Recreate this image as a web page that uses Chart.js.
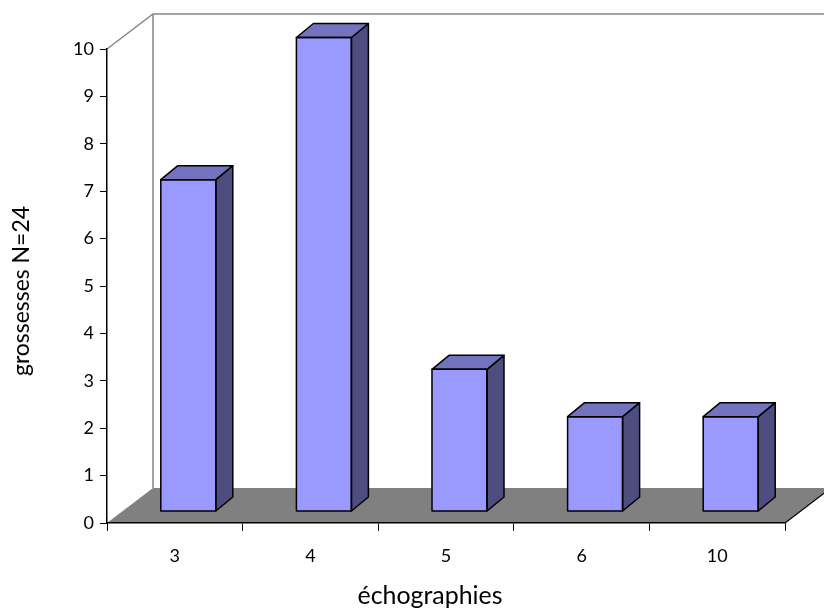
<!DOCTYPE html>
<html>
<head>
<meta charset="utf-8">
<script src="https://cdn.jsdelivr.net/npm/chart.js@4/dist/chart.umd.min.js"></script>
<style>
  html, body { margin: 0; padding: 0; background: #ffffff; }
  #wrap { width: 824px; height: 614px; position: relative; }
</style>
</head>
<body>
<div id="wrap"><canvas id="c" width="824" height="614"></canvas></div>
<script>
const categories = ['3', '4', '5', '6', '10'];
const counts = [7, 10, 3, 2, 2];
const yMin = 0;
const yMax = 10;
const yStep = 1;
const xTitle = 'échographies';
const yTitle = 'grossesses N=24';

const FONT = 'Lato, Calibri, Carlito, sans-serif';
const WALL = { dx: 46, dy: -35 };
const BAR_SHIFT = { dx: 13.5, dy: -11.5 };
const BAR_DEPTH = { dx: 17, dy: -14 };

// fit title font sizes to the widths seen in the reference
function fitSize(text, targetWidth) {
  const m = document.createElement('canvas').getContext('2d');
  m.font = '20px ' + FONT;
  return 20 * targetWidth / m.measureText(text).width;
}
const xTitleSize = fitSize(xTitle, 145);
const yTitleSize = fitSize(yTitle, 170);

const box3d = {
  id: 'box3d',
  beforeDraw(chart) {
    const { ctx } = chart;
    const xs = chart.scales.x, ys = chart.scales.y;
    const left = xs.left, right = xs.right;
    const top = ys.getPixelForValue(yMax), bottom = ys.getPixelForValue(yMin);
    ctx.save();
    ctx.beginPath();
    ctx.moveTo(left, bottom);
    ctx.lineTo(left + WALL.dx, bottom + WALL.dy);
    ctx.lineTo(right + WALL.dx, bottom + WALL.dy);
    ctx.lineTo(right, bottom);
    ctx.closePath();
    ctx.fillStyle = '#808080';
    ctx.fill();
    ctx.strokeStyle = '#000000';
    ctx.lineWidth = 1.2;
    ctx.beginPath();
    ctx.moveTo(right, bottom);
    ctx.lineTo(right + WALL.dx, bottom + WALL.dy);
    ctx.stroke();
    ctx.strokeStyle = '#868686';
    ctx.lineWidth = 1.5;
    ctx.beginPath();
    ctx.moveTo(left, top);
    ctx.lineTo(left + WALL.dx, top + WALL.dy);
    ctx.lineTo(right + WALL.dx, top + WALL.dy);
    ctx.moveTo(left + WALL.dx, top + WALL.dy);
    ctx.lineTo(left + WALL.dx, bottom + WALL.dy);
    ctx.stroke();
    ctx.restore();
  },
  beforeDatasetDraw(chart) {
    chart.ctx.save();
    chart.ctx.translate(BAR_SHIFT.dx, BAR_SHIFT.dy);
  },
  afterDatasetDraw(chart, args) {
    const { ctx } = chart;
    ctx.lineWidth = 1.5;
    ctx.strokeStyle = '#000000';
    ctx.lineJoin = 'round';
    args.meta.data.forEach(el => {
      const p = el.getProps(['x', 'y', 'base', 'width'], true);
      const l = p.x - p.width / 2, r = p.x + p.width / 2, t = p.y, b = p.base;
      ctx.beginPath();
      ctx.moveTo(r, t);
      ctx.lineTo(r + BAR_DEPTH.dx, t + BAR_DEPTH.dy);
      ctx.lineTo(r + BAR_DEPTH.dx, b + BAR_DEPTH.dy);
      ctx.lineTo(r, b);
      ctx.closePath();
      ctx.fillStyle = '#4D4D80';
      ctx.fill();
      ctx.stroke();
      ctx.beginPath();
      ctx.moveTo(l, t);
      ctx.lineTo(l + BAR_DEPTH.dx, t + BAR_DEPTH.dy);
      ctx.lineTo(r + BAR_DEPTH.dx, t + BAR_DEPTH.dy);
      ctx.lineTo(r, t);
      ctx.closePath();
      ctx.fillStyle = '#7373BF';
      ctx.fill();
      ctx.stroke();
      ctx.strokeRect(l, t, r - l, b - t);
    });
    ctx.restore();
  },
  afterDraw(chart) {
    const { ctx } = chart;
    ctx.save();
    ctx.fillStyle = '#000000';
    ctx.textAlign = 'center';
    ctx.textBaseline = 'alphabetic';
    ctx.font = xTitleSize.toFixed(2) + 'px ' + FONT;
    ctx.fillText(xTitle, 430, 604);
    ctx.translate(29, 291);
    ctx.rotate(-Math.PI / 2);
    ctx.font = yTitleSize.toFixed(2) + 'px ' + FONT;
    ctx.fillText(yTitle, 0, 0);
    ctx.restore();
  }
};

new Chart(document.getElementById('c'), {
  type: 'bar',
  data: {
    labels: categories,
    datasets: [{
      data: counts,
      backgroundColor: '#9999FF',
      borderWidth: 0,
      barThickness: 55
    }]
  },
  options: {
    responsive: false,
    animation: false,
    devicePixelRatio: 1,
    layout: { padding: { top: 49, right: 39, left: 0, bottom: 0 } },
    plugins: { legend: { display: false }, tooltip: { enabled: false } },
    scales: {
      x: {
        grid: { display: true, offset: true, drawOnChartArea: false, drawTicks: true, tickLength: 8, color: '#000000', lineWidth: 1 },
        border: { display: true, color: '#000000', width: 1.5 },
        ticks: { color: '#000000', font: { family: FONT, size: 18 }, padding: 14, maxRotation: 0 },
        title: { display: false, text: xTitle },
        afterFit(scale) { scale.height = 614 - 523; }
      },
      y: {
        min: yMin, max: yMax,
        grid: { display: true, drawOnChartArea: false, drawTicks: true, tickLength: 7, color: '#000000', lineWidth: 1 },
        border: { display: true, color: '#000000', width: 1.5 },
        ticks: { stepSize: yStep, color: '#000000', font: { family: FONT, size: 18 }, padding: 6 },
        title: { display: false, text: yTitle },
        afterFit(scale) { scale.width = 107; }
      }
    }
  },
  plugins: [box3d]
});
</script>
</body>
</html>
